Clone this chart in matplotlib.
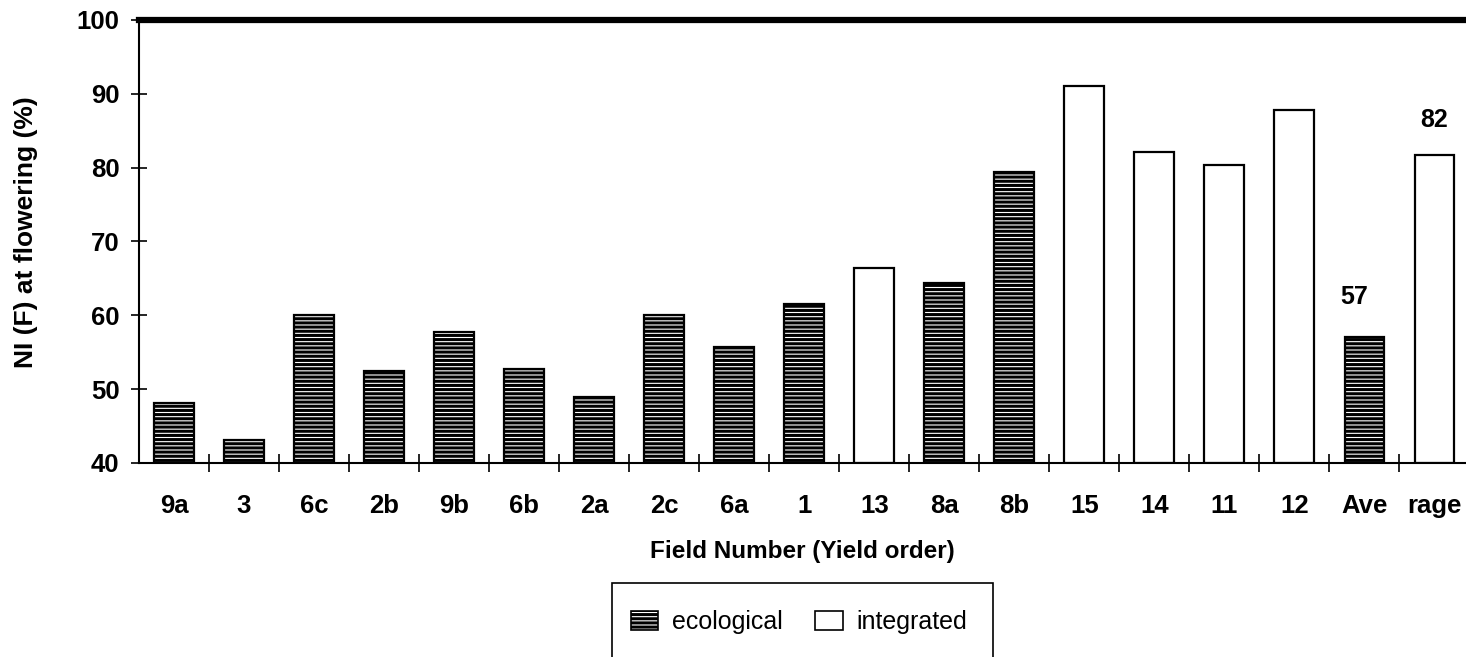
import matplotlib
matplotlib.use("Agg")
import matplotlib.pyplot as plt
import matplotlib.patches as patches
from matplotlib.ticker import FixedLocator

plt.rcParams['font.family'] = ['Liberation Sans', 'DejaVu Sans']
plt.rcParams['hatch.linewidth'] = 2.2

fields = ["9a", "3", "6c", "2b", "9b", "6b", "2a", "2c", "6a", "1",
          "13", "8a", "8b", "15", "14", "11", "12", "Ave", "rage"]
ni_values = [48.1, 43.1, 60.0, 52.4, 57.7, 52.7, 48.9, 60.0, 55.7, 61.6,
             66.4, 64.4, 79.4, 91.0, 82.1, 80.3, 87.8, 57.0, 81.7]
system = ["eco", "eco", "eco", "eco", "eco", "eco", "eco", "eco", "eco", "eco",
          "int", "eco", "eco", "int", "int", "int", "int", "eco", "int"]
avg_labels = {"Ave": "57", "rage": "82"}

fig = plt.figure(figsize=(14.66, 6.57), dpi=100)
ax = fig.add_axes([0.0948, 0.2953, 0.9052, 0.6743])

x = list(range(len(fields)))
hatches = ['----' if s == "eco" else None for s in system]
for xi, v, h in zip(x, ni_values, hatches):
    ax.bar(xi, v - 40, bottom=40, width=0.57, facecolor='white',
           edgecolor='black', linewidth=1.6, hatch=h)

# average value labels
ax.text(17 - 0.15, 62.5, avg_labels["Ave"], ha='center', va='center',
        fontsize=18, fontweight='bold')
ax.text(18, 86.4, avg_labels["rage"], ha='center', va='center',
        fontsize=18, fontweight='bold')

ax.set_ylim(40, 100)
ax.set_xlim(-0.5, 18.45)
ax.set_yticks(range(40, 101, 10))
ax.tick_params(axis='y', direction='inout', length=12, width=1.2, labelsize=18.5, pad=8)
ax.set_xticks(x)
ax.set_xticklabels(fields)
ax.tick_params(axis='x', which='major', length=0, labelsize=18.5, pad=22)
ax.xaxis.set_minor_locator(FixedLocator([i + 0.5 for i in range(18)]))
ax.tick_params(axis='x', which='minor', direction='inout', length=13, width=1.2)
for lbl in ax.get_xticklabels() + ax.get_yticklabels():
    lbl.set_fontweight('bold')

for s in ['left', 'bottom']:
    ax.spines[s].set_linewidth(1.5)
ax.spines['top'].set_linewidth(4.5)
ax.spines['right'].set_visible(False)

ax.set_ylabel("NI (F) at flowering (%)", fontsize=19, fontweight='bold')
ax.yaxis.set_label_coords(-0.076, 0.52)
ax.set_xlabel("Field Number (Yield order)", fontsize=17.5, fontweight='bold')
ax.xaxis.set_label_coords(0.5, -0.2)
ax.xaxis.label.set_va('center')

handles = [patches.Patch(facecolor='white', edgecolor='black', hatch='----', linewidth=1.2),
           patches.Patch(facecolor='white', edgecolor='black', linewidth=1.2)]
fig.legend(handles, ["ecological", "integrated"], loc='center',
           bbox_to_anchor=(0.545, 0.053), ncol=2, frameon=False, fontsize=18,
           handlelength=1.1, handleheight=0.85, handletextpad=0.55, columnspacing=1.3)
fig.patches.append(patches.Rectangle((0.4175, -0.02), 0.26, 0.1326, transform=fig.transFigure,
                                     facecolor='none', edgecolor='black', linewidth=1.2))

fig.savefig("out.png", dpi=100)
